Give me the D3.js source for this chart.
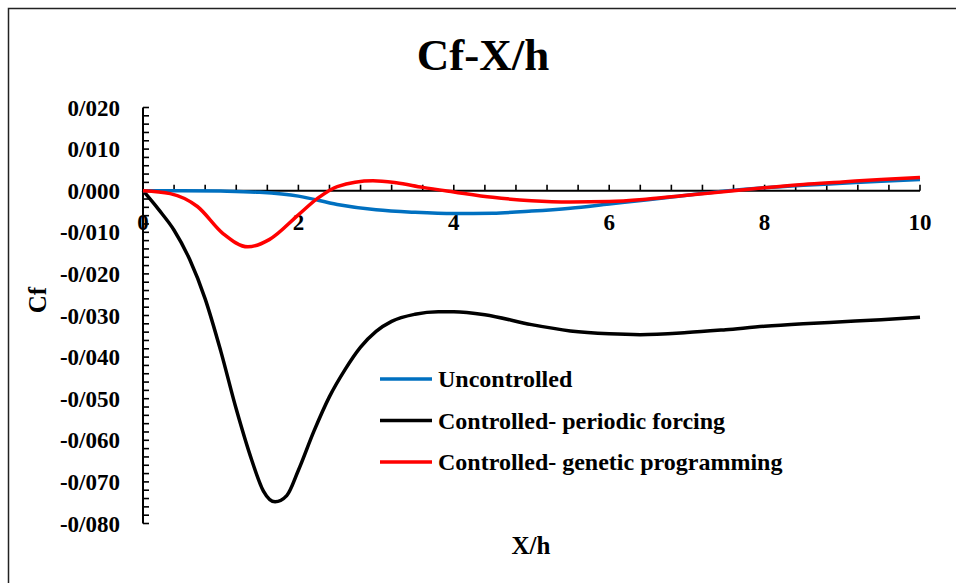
<!DOCTYPE html>
<html>
<head>
<meta charset="utf-8">
<script src="https://cdn.jsdelivr.net/npm/d3@7"></script>
<style>
  html, body { margin: 0; padding: 0; background: #fff; }
  svg text { font-family: "Liberation Serif", "Tinos", "DejaVu Serif", serif; }
</style>
</head>
<body>
<svg id="chart" width="956" height="583"></svg>
<script>
// Skin friction coefficient along the wall, X/h stations
const xUncontrolled = [0, 0.5, 1.0, 1.5, 2.0, 2.5, 3.0, 3.5, 4.0, 4.5, 5.0, 5.5, 6.0, 6.5, 7.0, 7.5, 8.0, 8.5, 9.0, 9.5, 10];
const cfUncontrolled = [0, 0, -0.0001, -0.0004, -0.0013, -0.0033, -0.0046, -0.0052, -0.0055, -0.0054, -0.0049, -0.0042, -0.0032, -0.0022, -0.0011, -0.0001, 0.0007, 0.0013, 0.0018, 0.0023, 0.0027];

const xPeriodic = [0, 0.2, 0.4, 0.6, 0.8, 1.0, 1.2, 1.4, 1.55, 1.7, 1.85, 2.0, 2.2, 2.4, 2.6, 2.8, 3.0, 3.2, 3.5, 3.8, 4.0, 4.4, 5.0, 5.5, 6.0, 6.4, 7.0, 7.5, 8.0, 8.5, 9.0, 9.5, 10];
const cfPeriodic = [0, -0.0045, -0.0095, -0.0165, -0.0260, -0.0385, -0.0525, -0.0648, -0.0722, -0.0748, -0.0733, -0.0672, -0.0578, -0.0495, -0.0430, -0.0376, -0.0338, -0.0314, -0.0297, -0.0291, -0.0291, -0.0298, -0.0322, -0.0337, -0.0344, -0.0346, -0.0341, -0.0334, -0.0326, -0.0320, -0.0315, -0.0310, -0.0304];

const xGenetic = [0, 0.35, 0.7, 1.03, 1.35, 1.63, 2.0, 2.25, 2.5, 2.96, 3.26, 3.6, 4.0, 4.5, 5.0, 5.5, 6.0, 6.5, 7.0, 7.5, 8.0, 8.5, 9.0, 9.5, 10];
const cfGenetic = [0, -0.0007, -0.0038, -0.0103, -0.0135, -0.0117, -0.0058, -0.0018, 0.0010, 0.0024, 0.0019, 0.0008, -0.0003, -0.0016, -0.0024, -0.0027, -0.0026, -0.0020, -0.0011, -0.0002, 0.0007, 0.0015, 0.0021, 0.0027, 0.0032];

const seriesNames = ["Uncontrolled", "Controlled- periodic forcing", "Controlled- genetic programming"];
const seriesColors = ["#0070C0", "#000000", "#FF0000"];

const xTickValues = [0, 2, 4, 6, 8, 10];
const yTickValues = [0.02, 0.01, 0, -0.01, -0.02, -0.03, -0.04, -0.05, -0.06, -0.07, -0.08];

const chartTitle = "Cf-X/h";
const xTitle = "X/h";
const yTitle = "Cf";

const FONT = "'Liberation Serif', Tinos, 'Times New Roman', 'DejaVu Serif', serif";
const svg = d3.select("#chart");

// outer chart frame
svg.append("rect")
  .attr("x", 8.5).attr("y", 8.5)
  .attr("width", 960).attr("height", 590)
  .attr("fill", "none").attr("stroke", "#222").attr("stroke-width", 1.5);

const x = d3.scaleLinear().domain([0, 10]).range([143, 920]);
const y = d3.scaleLinear().domain([-0.08, 0.02]).range([523.5, 107.5]);

// decimal separator shown as "/"
const fmt = v => d3.format(".3f")(v).replace("−", "-").replace(".", "/");

// title
svg.append("text")
  .attr("x", 483).attr("y", 70)
  .attr("text-anchor", "middle")
  .attr("font-family", FONT)
  .attr("font-weight", "bold").attr("font-size", 45)
  .text(chartTitle);

// y axis: line, minor ticks every 0.002 (inside), labels
const yAxisG = svg.append("g");
yAxisG.append("line")
  .attr("x1", x(0)).attr("x2", x(0))
  .attr("y1", y(0.02)).attr("y2", y(-0.08))
  .attr("stroke", "#000").attr("stroke-width", 2);
const yMinor = d3.range(-0.08, 0.0201, 0.002);
yAxisG.selectAll("line.minor").data(yMinor).join("line")
  .attr("class", "minor")
  .attr("x1", x(0)).attr("x2", x(0) + 6)
  .attr("y1", d => y(d)).attr("y2", d => y(d))
  .attr("stroke", "#000").attr("stroke-width", 1.6);
yAxisG.selectAll("text").data(yTickValues).join("text")
  .attr("x", 120).attr("y", d => y(d))
  .attr("dy", "0.35em")
  .attr("text-anchor", "end")
  .attr("font-family", FONT)
  .attr("font-weight", "bold").attr("font-size", 23)
  .text(fmt);

// x axis at Cf = 0
const xAxisG = svg.append("g");
xAxisG.append("line")
  .attr("x1", x(0)).attr("x2", x(10))
  .attr("y1", y(0)).attr("y2", y(0))
  .attr("stroke", "#000").attr("stroke-width", 2);
const xMinor = d3.range(0, 10.001, 0.4);
xAxisG.selectAll("line.minor").data(xMinor).join("line")
  .attr("class", "minor")
  .attr("x1", d => x(d)).attr("x2", d => x(d))
  .attr("y1", y(0)).attr("y2", y(0) - 6)
  .attr("stroke", "#000").attr("stroke-width", 1.6);
xAxisG.selectAll("text").data(xTickValues).join("text")
  .attr("x", d => x(d)).attr("y", y(0) + 39)
  .attr("text-anchor", "middle")
  .attr("font-family", FONT)
  .attr("font-weight", "bold").attr("font-size", 23)
  .text(d => d);

// axis titles
svg.append("text")
  .attr("x", 531).attr("y", 554)
  .attr("text-anchor", "middle")
  .attr("font-family", FONT)
  .attr("font-weight", "bold").attr("font-size", 25)
  .text(xTitle);
svg.append("text")
  .attr("transform", "translate(46,300) rotate(-90)")
  .attr("text-anchor", "middle")
  .attr("font-family", FONT)
  .attr("font-weight", "bold").attr("font-size", 25)
  .text(yTitle);

// curves
const line = d3.line()
  .x(d => x(d[0])).y(d => y(d[1]))
  .curve(d3.curveMonotoneX);

const series = [
  d3.zip(xUncontrolled, cfUncontrolled),
  d3.zip(xPeriodic, cfPeriodic),
  d3.zip(xGenetic, cfGenetic)
];
// draw black, blue, red so red sits on top
[1, 0, 2].forEach(i => {
  svg.append("path")
    .datum(series[i])
    .attr("fill", "none")
    .attr("stroke", seriesColors[i])
    .attr("stroke-width", 3.5)
    .attr("stroke-linejoin", "round")
    .attr("d", line);
});

// legend
const legend = svg.append("g");
seriesNames.forEach((name, i) => {
  const ly = 379 + i * 41.5;
  legend.append("line")
    .attr("x1", 380).attr("x2", 432)
    .attr("y1", ly).attr("y2", ly)
    .attr("stroke", seriesColors[i]).attr("stroke-width", 3.5);
  legend.append("text")
    .attr("x", 438).attr("y", ly)
    .attr("dy", "0.35em")
    .attr("font-family", FONT)
    .attr("font-weight", "bold").attr("font-size", 24)
    .text(name);
});
</script>
</body>
</html>
